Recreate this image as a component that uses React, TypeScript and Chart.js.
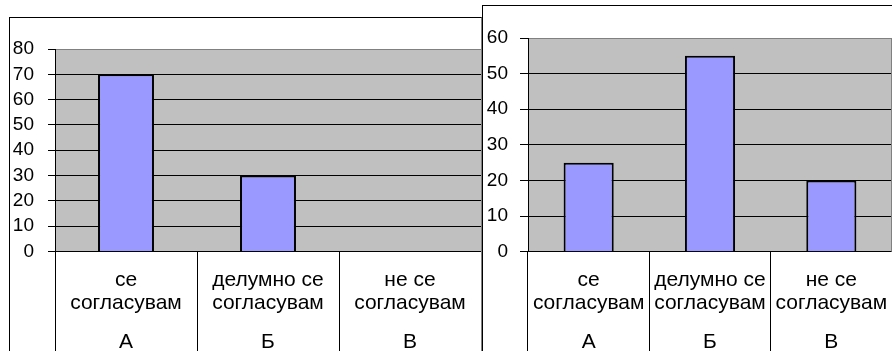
import React, { useEffect, useRef } from "react";
import { Chart, registerables } from "chart.js";

Chart.register(...registerables);

// ---- data ----
const categoryLines: string[][] = [
  ["се", "согласувам"],
  ["делумно се", "согласувам"],
  ["не се", "согласувам"],
];
const categoryLetters: string[] = ["А", "Б", "В"];
const leftValues: number[] = [70, 30, 0];
const rightValues: number[] = [25, 55, 20];
const leftYMax = 80;
const rightYMax = 60;
const yStep = 10;

const FONT = "'Liberation Sans', Arial, sans-serif";

type PanelProps = {
  values: number[];
  yMax: number;
  width: number;
  height: number;
  padTop: number;
  axisWidth: number;
  plotHeight: number;
  yTickLen: number;
  yTickPad: number;
  barPct: number;
  rightBorder: boolean;
};

const plotBg = {
  id: "plotBg",
  beforeDraw(chart: any) {
    const { ctx, chartArea } = chart;
    ctx.save();
    ctx.fillStyle = "#C0C0C0";
    ctx.fillRect(chartArea.left, chartArea.top, chartArea.right - chartArea.left, chartArea.bottom - chartArea.top);
    ctx.restore();
  },
  afterDatasetsDraw(chart: any, _args: any, opts: any) {
    if (!opts || !opts.rightBorder) return;
    const { ctx, chartArea } = chart;
    ctx.save();
    ctx.strokeStyle = "#808080";
    ctx.lineWidth = 1;
    ctx.beginPath();
    const x = Math.round(chartArea.right) - 0.5;
    ctx.moveTo(x, chartArea.top);
    ctx.lineTo(x, chartArea.bottom);
    ctx.stroke();
    ctx.restore();
  },
};

function BarPanel(p: PanelProps) {
  const ref = useRef<HTMLCanvasElement | null>(null);
  useEffect(() => {
    if (!ref.current) return;
    const h1 = 70;
    const h2 = p.height - p.padTop - p.plotHeight - h1;
    const chart = new Chart(ref.current, {
      type: "bar",
      data: {
        labels: categoryLines,
        datasets: [
          {
            data: p.values,
            backgroundColor: "#9999FF",
            borderColor: "#000000",
            borderWidth: 2,
            barPercentage: p.barPct,
            categoryPercentage: 1,
          },
        ],
      },
      options: {
        responsive: false,
        animation: false,
        events: [],
        layout: { padding: { top: p.padTop, left: 0, right: 0, bottom: 0 } },
        plugins: {
          legend: { display: false },
          tooltip: { enabled: false },
          title: { display: false },
          plotBg: { rightBorder: p.rightBorder },
        } as any,
        scales: {
          x: {
            type: "category",
            position: "bottom",
            offset: true,
            grid: {
              offset: true,
              drawOnChartArea: false,
              drawTicks: true,
              tickLength: h1 + 12,
              color: "#000000",
              lineWidth: 1,
            },
            border: { display: true, color: "#000000", width: 1 },
            ticks: {
              padding: 17.5 - (h1 + 12),
              color: "#000000",
              autoSkip: false,
              maxRotation: 0,
              minRotation: 0,
              font: { family: FONT, size: 21, lineHeight: "23px" as any },
            },
            afterFit: (s: any) => {
              s.height = h1;
            },
          },
          x2: {
            type: "category",
            position: "bottom",
            labels: categoryLetters,
            offset: true,
            grid: {
              offset: true,
              drawOnChartArea: false,
              drawTicks: true,
              tickLength: h2 + 10,
              color: "#000000",
              lineWidth: 1,
            },
            border: { display: false },
            ticks: {
              padding: 8.4 - (h2 + 10),
              color: "#000000",
              autoSkip: false,
              maxRotation: 0,
              minRotation: 0,
              font: { family: FONT, size: 21 },
            },
            afterFit: (s: any) => {
              s.height = h2;
            },
          },
          y: {
            type: "linear",
            min: 0,
            max: p.yMax,
            ticks: {
              stepSize: yStep,
              autoSkip: false,
              padding: p.yTickPad,
              color: "#000000",
              font: { family: FONT, size: 19 },
            },
            grid: {
              drawTicks: true,
              tickLength: p.yTickLen,
              color: (c: any) => (c.tick && c.tick.value === p.yMax ? "#808080" : "#000000"),
              tickColor: "#000000",
              lineWidth: 1,
            },
            border: { display: true, color: "#000000", width: 1 },
            afterFit: (s: any) => {
              s.width = p.axisWidth;
            },
          },
        },
      },
      plugins: [plotBg],
    });
    return () => chart.destroy();
  }, []);
  return <canvas ref={ref} width={p.width} height={p.height} style={{ display: "block" }} />;
}

export default function App() {
  return (
    <div
      style={{
        position: "fixed",
        left: 0,
        top: 0,
        width: 892,
        height: 351,
        overflow: "hidden",
        background: "#ffffff",
      }}
    >
      <div
        style={{
          position: "absolute",
          left: 9,
          top: 17,
          width: 471,
          height: 400,
          border: "1px solid #000",
          borderRightColor: "#808080",
          background: "#fff",
          overflow: "hidden",
        }}
      >
        <BarPanel
          values={leftValues}
          yMax={leftYMax}
          width={471}
          height={333}
          padTop={31}
          axisWidth={45}
          plotHeight={202.5}
          yTickLen={7}
          yTickPad={14}
          barPct={0.394}
          rightBorder={false}
        />
      </div>
      <div
        style={{
          position: "absolute",
          left: 482,
          top: 5,
          width: 430,
          height: 400,
          border: "1px solid #000",
          background: "#fff",
          overflow: "hidden",
          zIndex: 2,
        }}
      >
        <BarPanel
          values={rightValues}
          yMax={rightYMax}
          width={409}
          height={345}
          padTop={32}
          axisWidth={45}
          plotHeight={213.7}
          yTickLen={8}
          yTickPad={12}
          barPct={0.413}
          rightBorder={true}
        />
      </div>
    </div>
  );
}
